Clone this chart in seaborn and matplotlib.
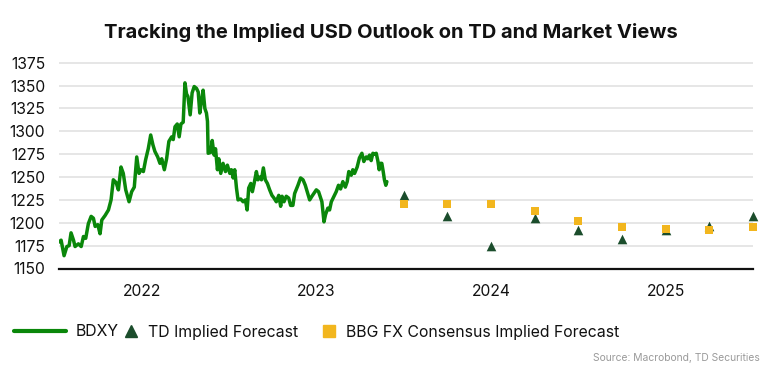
import matplotlib
matplotlib.use("Agg")
import matplotlib.pyplot as plt
import seaborn as sns
import pandas as pd
from matplotlib.lines import Line2D

# ---- data (decimal years) ----
bdxy_t = [2022.028, 2022.039, 2022.056, 2022.072, 2022.085, 2022.096, 2022.110, 2022.119,
          2022.138, 2022.154, 2022.167, 2022.180, 2022.195, 2022.211, 2022.224, 2022.234,
          2022.249, 2022.262, 2022.272, 2022.291, 2022.310, 2022.325, 2022.338, 2022.354,
          2022.367, 2022.382, 2022.395, 2022.409, 2022.428, 2022.443, 2022.458, 2022.472,
          2022.485, 2022.496, 2022.510, 2022.523, 2022.538, 2022.552, 2022.565, 2022.576,
          2022.592, 2022.605, 2022.615, 2022.630, 2022.643, 2022.656, 2022.672, 2022.681,
          2022.691, 2022.704, 2022.715, 2022.725, 2022.738, 2022.748, 2022.757, 2022.765,
          2022.778, 2022.789, 2022.801, 2022.814, 2022.824, 2022.833, 2022.843, 2022.852,
          2022.862, 2022.871, 2022.877, 2022.881, 2022.896, 2022.904, 2022.915, 2022.923,
          2022.934, 2022.942, 2022.953, 2022.966, 2022.980, 2022.991, 2023.005, 2023.014,
          2023.024, 2023.033, 2023.043, 2023.052, 2023.067, 2023.081, 2023.094, 2023.104,
          2023.113, 2023.125, 2023.134, 2023.144, 2023.157, 2023.166, 2023.176, 2023.186,
          2023.197, 2023.208, 2023.220, 2023.233, 2023.246, 2023.258, 2023.271, 2023.285,
          2023.296, 2023.304, 2023.315, 2023.328, 2023.342, 2023.353, 2023.366, 2023.376,
          2023.395, 2023.410, 2023.424, 2023.437, 2023.448, 2023.462, 2023.475, 2023.486,
          2023.500, 2023.513, 2023.525, 2023.532, 2023.544, 2023.553, 2023.566, 2023.576,
          2023.586, 2023.601, 2023.614, 2023.627, 2023.639, 2023.652, 2023.666, 2023.677,
          2023.686, 2023.700, 2023.709, 2023.719, 2023.734, 2023.747, 2023.761, 2023.772,
          2023.786, 2023.795, 2023.805, 2023.814, 2023.824, 2023.833, 2023.843, 2023.852,
          2023.860, 2023.867, 2023.875, 2023.883, 2023.890, 2023.898, 2023.904]
bdxy_v = [1179, 1181, 1164, 1174, 1175, 1189, 1181, 1174,
          1177, 1174, 1185, 1183, 1199, 1207, 1205, 1196,
          1198, 1188, 1203, 1208, 1214, 1225, 1247, 1244,
          1236, 1261, 1254, 1236, 1223, 1234, 1239, 1272,
          1254, 1258, 1256, 1269, 1281, 1296, 1285, 1278,
          1272, 1265, 1270, 1258, 1270, 1289, 1294, 1291,
          1305, 1308, 1294, 1308, 1310, 1353, 1341, 1338,
          1318, 1342, 1349, 1347, 1343, 1320, 1334, 1345,
          1325, 1320, 1311, 1276, 1277, 1290, 1274, 1281,
          1258, 1270, 1254, 1265, 1256, 1263, 1254, 1258,
          1249, 1258, 1238, 1225, 1226, 1223, 1225, 1214,
          1238, 1243, 1234, 1243, 1256, 1247, 1250, 1247,
          1260, 1247, 1243, 1236, 1230, 1227, 1223, 1230,
          1218, 1229, 1223, 1229, 1227, 1219, 1219, 1232,
          1241, 1249, 1247, 1241, 1234, 1225, 1229, 1232,
          1236, 1234, 1227, 1223, 1201, 1209, 1216, 1214,
          1223, 1229, 1234, 1241, 1237, 1245, 1239, 1245,
          1256, 1252, 1258, 1254, 1261, 1271, 1276, 1267,
          1272, 1270, 1274, 1268, 1276, 1275, 1276, 1268,
          1258, 1265, 1265, 1256, 1247, 1241, 1245]

fc_t = [2024.0, 2024.25, 2024.5, 2024.75, 2025.0, 2025.25, 2025.5, 2025.75, 2026.0]
td_fc = [1230, 1207, 1175, 1205, 1192, 1182, 1192, 1197, 1207]
bbg_fc = [1221, 1221, 1221, 1213, 1202, 1195, 1193, 1192, 1195]

year_ticks = [2022.5, 2023.5, 2024.5, 2025.5]
year_labels = ["2022", "2023", "2024", "2025"]
y_ticks = [1150, 1175, 1200, 1225, 1250, 1275, 1300, 1325, 1350, 1375]

LINE_C = "#0a870a"
TRI_C = "#1b4d2c"
SQ_C = "#f2b61e"

sns.set_theme(style="white")
plt.rcParams["font.family"] = ["Inter", "DejaVu Sans"]

line_df = pd.DataFrame({"t": bdxy_t, "v": bdxy_v})
fc_df = pd.DataFrame({"t": fc_t, "td": td_fc, "bbg": bbg_fc})

fig = plt.figure(figsize=(7.7, 3.8), dpi=100)
ax = fig.add_axes([59 / 770, 1 - 268.5 / 380, (753 - 59) / 770, (268.5 - 60) / 380])

sns.lineplot(data=line_df, x="t", y="v", ax=ax, color=LINE_C, linewidth=2.5, zorder=3)
sns.scatterplot(data=fc_df, x="t", y="td", ax=ax, marker="^", s=48, color=TRI_C,
                edgecolor=TRI_C, linewidth=0, zorder=4, clip_on=False)
sns.scatterplot(data=fc_df, x="t", y="bbg", ax=ax, marker="s", s=36, color=SQ_C,
                edgecolor=SQ_C, linewidth=0, zorder=5, clip_on=False)

ax.set_xlim(2022.027, 2026.0)
ax.set_ylim(1150, 1378)
ax.set_yticks(y_ticks)
ax.set_xticks(year_ticks)
ax.set_xticklabels(year_labels)
ax.set_xlabel("")
ax.set_ylabel("")
ax.grid(axis="y", color="#e4e4e4", linewidth=1.3)
ax.grid(axis="x", visible=False)
ax.set_axisbelow(True)
for s in ["top", "right", "left"]:
    ax.spines[s].set_visible(False)
ax.spines["bottom"].set_color("#111111")
ax.spines["bottom"].set_linewidth(1.6)
ax.spines["bottom"].set_zorder(6)
ax.tick_params(axis="both", length=0, labelsize=11.3, colors="#111111")
ax.tick_params(axis="y", pad=10)
ax.tick_params(axis="x", pad=11)

fig.text(0.508, 1 - 32 / 380, "Tracking the Implied USD Outlook on TD and Market Views",
         ha="center", va="center", fontsize=14.5, fontweight="bold", color="#111111")

h1 = Line2D([], [], color=LINE_C, linewidth=3)
h2 = Line2D([], [], color=TRI_C, marker="^", linestyle="none", markersize=9)
h3 = Line2D([], [], color=SQ_C, marker="s", linestyle="none", markersize=9)
legkw = dict(frameon=False, fontsize=11.4, loc="center left", handletextpad=0.6,
             borderaxespad=0, borderpad=0, labelcolor="#111111")
fig.legend([h1], ["BDXY"], bbox_to_anchor=(14 / 770, 1 - 332 / 380),
           handlelength=3.3, **legkw)
fig.legend([h2], ["TD Implied Forecast"], bbox_to_anchor=(123 / 770, 1 - 332 / 380),
           handlelength=1.0, **legkw)
fig.legend([h3], ["BBG FX Consensus Implied Forecast"], bbox_to_anchor=(321 / 770, 1 - 332 / 380),
           handlelength=1.0, **legkw)

fig.text(760 / 770, 1 - 358 / 380, "Source: Macrobond, TD Securities", ha="right",
         va="center", fontsize=7.4, color="#9a9a9a")

fig.savefig("out.png", dpi=100)
